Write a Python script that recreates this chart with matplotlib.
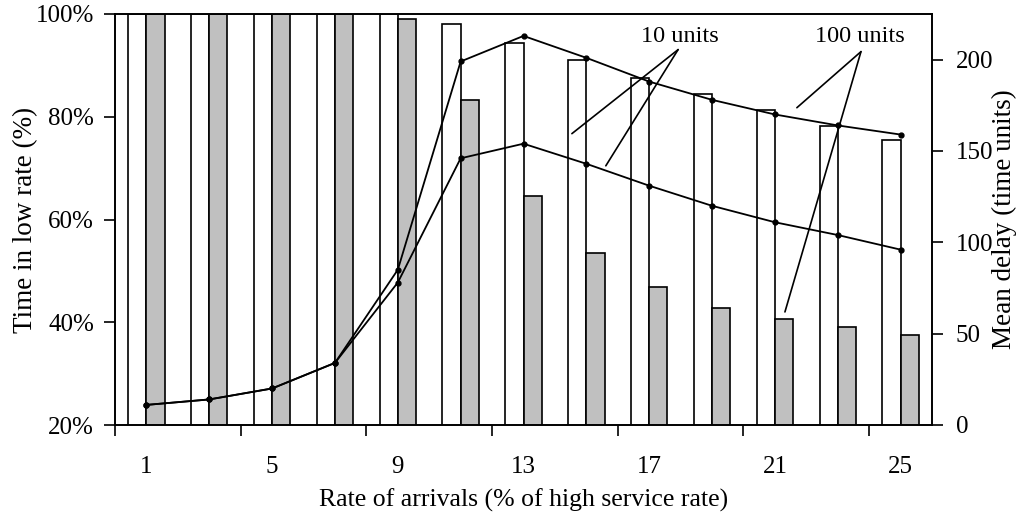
import matplotlib
matplotlib.use("Agg")
import matplotlib.pyplot as plt
import numpy as np

plt.rcParams['font.family'] = ['Liberation Serif', 'DejaVu Serif']

# Data
rates = [1, 3, 5, 7, 9, 11, 13, 15, 17, 19, 21, 23, 25]
tick_labels = ['1', '', '5', '', '9', '', '13', '', '17', '', '21', '', '25']
low_rate_10 = [100, 100, 100, 100, 100, 98.0, 94.4, 91.0, 87.5, 84.4, 81.3, 78.2, 75.5]
low_rate_100 = [100, 100, 100, 100, 99.1, 83.2, 64.6, 53.5, 46.8, 42.8, 40.6, 39.0, 37.5]
delay_10 = [11, 14, 20, 34, 78, 146, 154, 143, 131, 120, 111, 104, 96]
delay_100 = [11, 14, 20, 34, 85, 199, 213, 201, 188, 178, 170, 164, 159]

FS = 18.5
TFS = 18
AFS = 17.5
W, H = 1021, 520
fig = plt.figure(figsize=(W / 100, H / 100), dpi=100)
ax = fig.add_axes([115 / W, 1 - 425 / H, (932 - 115) / W, (425 - 14) / H])
ax2 = ax.twinx()

x = np.arange(len(rates))
bw = 0.29
lw = 1.2
ax.bar(x - bw / 2, low_rate_10, width=bw, color='white', edgecolor='black', linewidth=lw, zorder=2)
ax.bar(x + bw / 2, low_rate_100, width=bw, color='#C0C0C0', edgecolor='black', linewidth=lw, zorder=2)

ax.set_xlim(-0.5, len(rates) - 0.5)
ax.set_ylim(20, 100)
ax.set_yticks([20, 40, 60, 80, 100])
ax.set_yticklabels(['20%', '40%', '60%', '80%', '100%'])

# x ticks between category pairs, labels at categories
ax.set_xticks(np.arange(-0.5, len(rates) - 1, 2))
ax.set_xticklabels([])
ax.set_xticks(x, minor=True)
ax.set_xticklabels(tick_labels, minor=True)
ax.tick_params(axis='x', which='major', direction='out', length=8, width=lw)
ax.tick_params(axis='x', which='minor', length=0, pad=22, labelsize=TFS)
ax.tick_params(axis='y', direction='out', length=8, width=lw, labelsize=TFS, pad=7)

ax2.plot(x, delay_10, color='black', linewidth=1.3, marker='o', markersize=3.5, zorder=3)
ax2.plot(x, delay_100, color='black', linewidth=1.3, marker='o', markersize=3.5, zorder=3)
ax2.set_ylim(0, 225)
ax2.set_yticks([0, 50, 100, 150, 200])
ax2.tick_params(axis='y', direction='out', length=8, width=lw, labelsize=TFS, pad=9)

for a in (ax, ax2):
    for s in a.spines.values():
        s.set_linewidth(lw)

ax.set_xlabel('Rate of arrivals (% of high service rate)', fontsize=FS, labelpad=8)
ax.set_ylabel('Time in low rate (%)', fontsize=FS + 1)
ax2.set_ylabel('Mean delay (time units)', fontsize=FS + 1)
ax.yaxis.set_label_coords((38 - 115) / 817, 0.5)
ax2.yaxis.set_label_coords((992 - 115) / 817, 0.5)

ap = dict(arrowstyle='-', color='black', linewidth=1.2, shrinkA=0, shrinkB=0)
ax2.text(8.49, 212.6, '10 units', ha='center', va='center', fontsize=AFS)
ax2.annotate('', xy=(6.77, 159.5), xytext=(8.46, 205.5), arrowprops=ap)
ax2.annotate('', xy=(7.31, 141.9), xytext=(8.46, 205.5), arrowprops=ap)
ax2.text(11.35, 212.6, '100 units', ha='center', va='center', fontsize=AFS)
ax2.annotate('', xy=(10.35, 173.7), xytext=(11.37, 204.4), arrowprops=ap)
ax2.annotate('', xy=(10.16, 61.9), xytext=(11.37, 204.4), arrowprops=ap)

fig.savefig('out.png', dpi=100)
